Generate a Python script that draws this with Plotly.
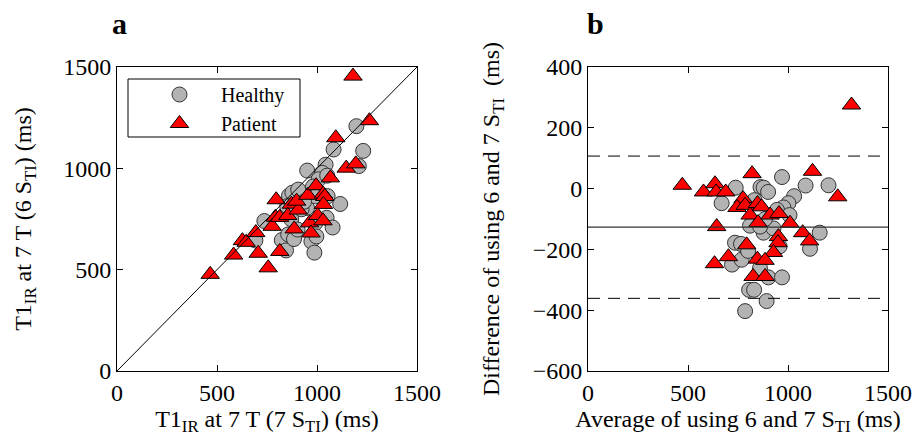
import plotly.graph_objects as go

# ---------------- data ----------------
# T1_IR at 7 T using 7 S_TI (x) and 6 S_TI (y), in ms
healthy_t1_7sti = [951, 1083, 1197, 737, 860, 877, 906, 692, 851, 1043, 1026, 1008,
                   980, 1051, 1231, 1209, 871, 950, 993, 923, 935, 824, 856, 845,
                   885, 991, 1048, 1116, 972, 997, 1078, 987, 1053, 903]
healthy_t1_6sti = [989, 1093, 1208, 740, 865, 880, 895, 644, 813, 1018, 978, 946,
                   910, 964, 1086, 1011, 749, 805, 862, 798, 835, 646, 674, 595,
                   651, 729, 756, 824, 639, 664, 708, 584, 863, 698]
patient_t1_7sti = [1180, 466, 583, 627, 646, 694, 796, 1094, 1262, 792, 776, 813,
                   872, 854, 906, 898, 954, 996, 1067, 1146, 1194, 706, 886, 1031,
                   1039, 1032, 814, 756, 963, 1003, 970, 1030]
patient_t1_6sti = [1455, 477, 572, 643, 635, 683, 845, 1151, 1235, 759, 714, 758,
                   823, 767, 794, 838, 867, 914, 953, 1001, 1022, 581, 701, 873,
                   861, 822, 590, 509, 731, 767, 681, 741]

# Bland-Altman reference lines (ms)
mean_diff = -127
loa_upper = 107
loa_lower = -361

axis_range_a = [0, 1500]
axis_range_b_y = [-600, 400]
ticks_a = [0, 500, 1000, 1500]
ticks_b_y = [-600, -400, -200, 0, 200, 400]

# Bland-Altman derived quantities
def avg(a, b):
    return [(u + v) / 2 for u, v in zip(a, b)]

def diff(a, b):
    return [v - u for u, v in zip(a, b)]

healthy_avg = avg(healthy_t1_7sti, healthy_t1_6sti)
healthy_diff = diff(healthy_t1_7sti, healthy_t1_6sti)
patient_avg = avg(patient_t1_7sti, patient_t1_6sti)
patient_diff = diff(patient_t1_7sti, patient_t1_6sti)

# ---------------- figure ----------------
W, H = 917, 441
FONT = "Liberation Serif"

healthy_marker = dict(symbol="circle", size=15, color="#b3b3b3",
                      line=dict(color="#333333", width=1))
patient_marker = dict(symbol="triangle-up", size=16, color="#ff0000",
                      line=dict(color="#000000", width=1))

fig = go.Figure()

# Panel a
fig.add_trace(go.Scatter(x=healthy_t1_7sti, y=healthy_t1_6sti, mode="markers",
                         marker=healthy_marker, name="Healthy", xaxis="x", yaxis="y"))
fig.add_trace(go.Scatter(x=patient_t1_7sti, y=patient_t1_6sti, mode="markers",
                         marker=patient_marker, name="Patient", xaxis="x", yaxis="y"))
fig.add_trace(go.Scatter(x=axis_range_a, y=axis_range_a, mode="lines",
                         line=dict(color="black", width=1), showlegend=False,
                         hoverinfo="skip", xaxis="x", yaxis="y"))

# Panel b
fig.add_trace(go.Scatter(x=healthy_avg, y=healthy_diff, mode="markers",
                         marker=healthy_marker, name="Healthy", showlegend=False,
                         xaxis="x2", yaxis="y2"))
fig.add_trace(go.Scatter(x=patient_avg, y=patient_diff, mode="markers",
                         marker=patient_marker, name="Patient", showlegend=False,
                         xaxis="x2", yaxis="y2"))
fig.add_trace(go.Scatter(x=axis_range_a, y=[mean_diff, mean_diff], mode="lines",
                         line=dict(color="#333333", width=1.2), showlegend=False,
                         hoverinfo="skip", xaxis="x2", yaxis="y2"))
for lv in (loa_upper, loa_lower):
    fig.add_trace(go.Scatter(x=axis_range_a, y=[lv, lv], mode="lines",
                             line=dict(color="black", width=1, dash="12px,8px"),
                             showlegend=False, hoverinfo="skip",
                             xaxis="x2", yaxis="y2"))

common = dict(showline=True, linecolor="black", linewidth=1, mirror="ticks",
              ticks="inside", ticklen=6, tickcolor="black", showgrid=False,
              zeroline=False, automargin=False,
              tickfont=dict(family=FONT, size=24, color="black"),
              title_font=dict(family=FONT, size=24, color="black"))

ya0, ya1 = 1 - 371 / H, 1 - 67 / H

fig.update_layout(
    width=W, height=H,
    margin=dict(l=0, r=0, t=0, b=0, autoexpand=False),
    paper_bgcolor="white", plot_bgcolor="white",
    font=dict(family=FONT, color="black"),
    xaxis=dict(domain=[117 / W, 417 / W], range=axis_range_a, tickvals=ticks_a,
               anchor="y",
               title=dict(text="T1<sub>IR</sub> at 7 T (7 S<sub>TI</sub>) (ms)", standoff=4),
               **common),
    yaxis=dict(domain=[ya0, ya1], range=axis_range_a, tickvals=ticks_a, anchor="x",
               title=dict(text="T1<sub>IR</sub> at 7 T (6 S<sub>TI</sub>) (ms)", standoff=24),
               **common),
    xaxis2=dict(domain=[588 / W, 888 / W], range=axis_range_a, tickvals=ticks_a,
                anchor="y2",
                title=dict(text="Average of using 6 and 7 S<sub>TI</sub> (ms)", standoff=4),
                **common),
    yaxis2=dict(domain=[ya0, ya1], range=axis_range_b_y, tickvals=ticks_b_y,
                anchor="x2",
                title=dict(text="Difference of using 6 and 7 S<sub>TI</sub>  (ms)", standoff=26),
                **common),
    legend=dict(x=138 / W, y=1 - 75 / H, xanchor="left", yanchor="top",
                bgcolor="rgba(0,0,0,0)", borderwidth=0,
                font=dict(family=FONT, size=20, color="black"),
                itemwidth=73),
    shapes=[dict(type="rect", xref="paper", yref="paper",
                 x0=128 / W, x1=300 / W, y0=1 - 137 / H, y1=1 - 79 / H,
                 line=dict(color="black", width=1), fillcolor="rgba(0,0,0,0)")],
    annotations=[
        dict(text="<b>a</b>", xref="paper", yref="paper", x=110 / W, y=1 - 23 / H,
             xanchor="left", yanchor="middle", showarrow=False,
             font=dict(family=FONT, size=30, color="black")),
        dict(text="<b>b</b>", xref="paper", yref="paper", x=585 / W, y=1 - 23 / H,
             xanchor="left", yanchor="middle", showarrow=False,
             font=dict(family=FONT, size=30, color="black")),
    ],
)

fig.write_html("out.html")
